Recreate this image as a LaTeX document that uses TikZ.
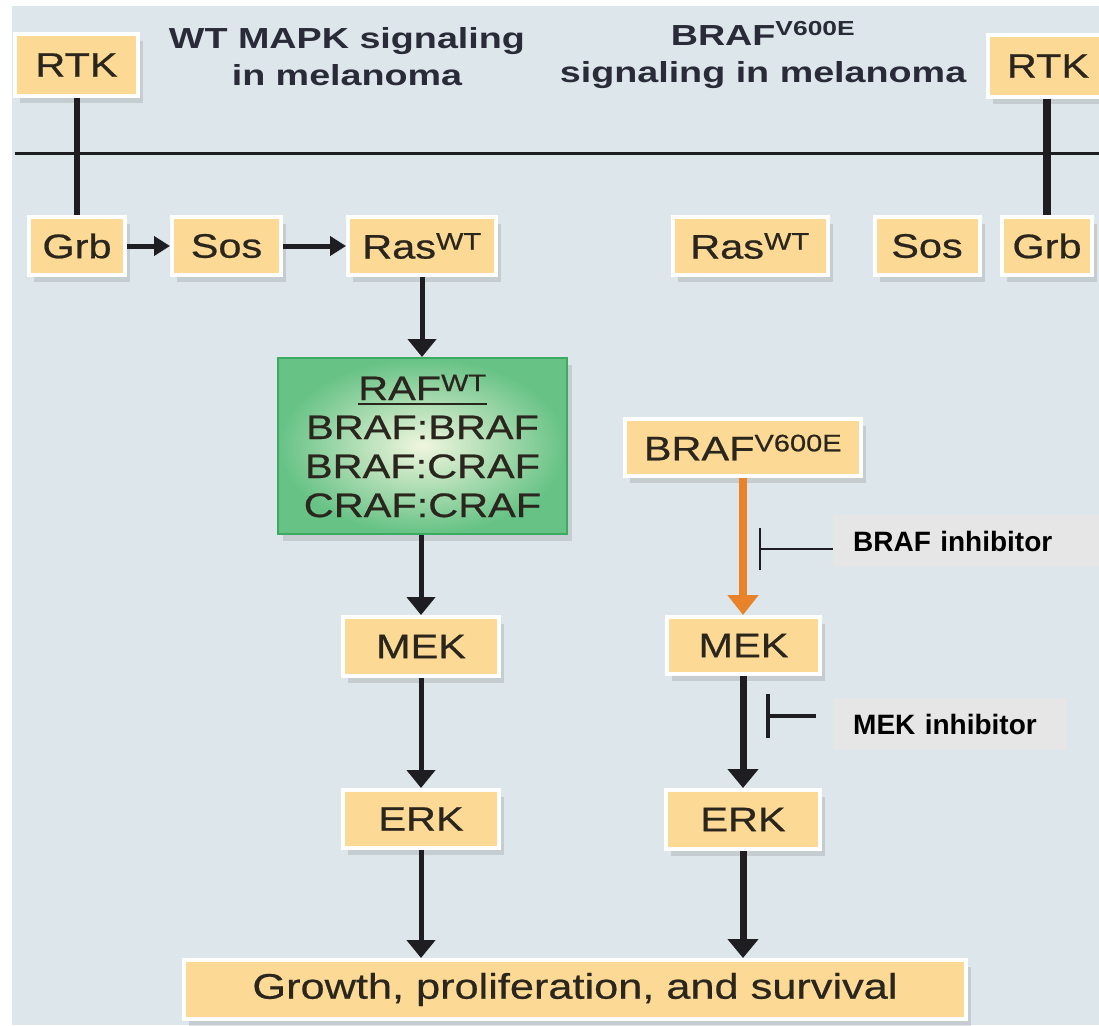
\documentclass[tikz,border=0pt]{standalone}
\usepackage{fontspec}
\usetikzlibrary{arrows.meta,shadows,calc}
\newfontfamily\boxfont[FakeStretch=1.22,FakeBold=0.6]{Liberation Sans}
\newfontfamily\titlefont[FakeStretch=1.3]{Liberation Sans Bold}
\newfontfamily\labfont{Liberation Sans Bold}
\definecolor{bg}{HTML}{DDE7EB}
\definecolor{boxfill}{HTML}{FCD995}
\definecolor{txt}{HTML}{2A261E}
\definecolor{titletxt}{HTML}{2A2B38}
\definecolor{ink}{HTML}{1E1E22}
\definecolor{orangearrow}{HTML}{E8832A}
\definecolor{labgray}{HTML}{E6E6E6}
\definecolor{rafedge}{HTML}{3DAA62}
\definecolor{rafin}{HTML}{F0F6DE}
\definecolor{rafout}{HTML}{66C285}
\newcommand\ulbar[1]{\setbox0=\hbox{#1}\leavevmode\rlap{\rule[-5pt]{\wd0}{2.5pt}}\box0}
\begin{document}
\begin{tikzpicture}[x=1pt,y=-1pt,
  protein/.style={rectangle, fill=boxfill, draw=white, line width=4pt, inner sep=0pt,
    text=txt, font=\boxfont\fontsize{34}{40}\selectfont,
    drop shadow={shadow xshift=5pt, shadow yshift=-7pt, opacity=0.14, fill=black!80}},
  rafbox/.style={rectangle, draw=rafedge, line width=2pt, inner sep=0pt,
    inner color=rafin, outer color=rafout, align=center,
    text=txt, font=\boxfont\fontsize{34}{39}\selectfont,
    drop shadow={shadow xshift=5pt, shadow yshift=-7pt, opacity=0.14, fill=black!80}},
  titlestyle/.style={align=center, text=titletxt, inner sep=0pt,
    font=\titlefont\fontsize{29}{37}\selectfont},
  inhlabel/.style={anchor=west, fill=labgray, inner xsep=20pt, inner ysep=0pt,
    minimum height=52pt, align=left, text=black,
    font=\labfont\fontsize{28}{32}\selectfont},
  arr/.style={draw=ink, line width=5pt, -{Triangle[width=28pt,length=18pt]}},
  thickarr/.style={draw=ink, line width=7pt, -{Triangle[width=30pt,length=19pt]}},
  smallarr/.style={draw=ink, line width=5pt, -{Triangle[width=19pt,length=16pt]}},
  orangearr/.style={draw=orangearrow, line width=8pt, -{Triangle[width=30pt,length=20pt]}},
  rtkline/.style={draw=ink, line width=6pt},
  inhline/.style={draw=ink, line width=2pt}
]
\useasboundingbox (0,0) rectangle (1099,1025);
\fill[white] (0,0) rectangle (1099,1025);
\fill[bg] (12,6) rectangle (1099,1025);

% membrane
\coordinate (ml) at (15,153);
\coordinate (mr) at (1099,153);
\draw[ink, line width=3pt] (ml) -- (mr);

% titles
\node[titlestyle] (titlel) at (347,57) {WT MAPK signaling\\in melanoma};
\node[titlestyle] (titler) at (763,55) {BRAF\textsuperscript{V600E}\\signaling in melanoma};

% receptor boxes
\node[protein, minimum width=123pt, minimum height=61pt] (rtkl) at (76.5,65) {RTK};
\node[protein, minimum width=120pt, minimum height=61pt] (rtkr) at (1048,66) {RTK};

% second row
\node[protein, minimum width=96pt, minimum height=58pt] (grbl) at (77,246) {Grb};
\node[protein, minimum width=109pt, minimum height=58pt] (sosl) at (226.5,246) {Sos};
\node[protein, minimum width=148pt, minimum height=58pt] (rasl) at (422,246) {Ras\textsuperscript{WT}};
\node[protein, minimum width=155pt, minimum height=58pt] (rasr) at (750,246) {Ras\textsuperscript{WT}};
\node[protein, minimum width=105pt, minimum height=58pt] (sosr) at (927,246) {Sos};
\node[protein, minimum width=90pt, minimum height=58pt] (grbr) at (1047,246) {Grb};

% RAF complex
\node[rafbox, minimum width=289pt, minimum height=176pt] (raf) at (422.5,446)
  {\ulbar{RAF\textsuperscript{WT}}\\BRAF:BRAF\\BRAF:CRAF\\CRAF:CRAF};

% left column
\node[protein, minimum width=156pt, minimum height=59pt] (mekl) at (421,646.5) {MEK};
\node[protein, minimum width=156pt, minimum height=58pt] (erkl) at (421,819) {ERK};

% right column
\node[protein, minimum width=236pt, minimum height=57pt] (brafv) at (743,447.5) {BRAF\textsuperscript{V600E}};
\node[protein, minimum width=153pt, minimum height=57pt] (mekr) at (743.5,645.5) {MEK};
\node[protein, minimum width=154pt, minimum height=59pt] (erkr) at (743,819.5) {ERK};

% outcome
\node[protein, minimum width=782pt, minimum height=59pt, font=\boxfont\fontsize{35.5}{40}\selectfont] (growth) at (575,989.5) {Growth, proliferation, and survival};

% inhibitor labels
\node[inhlabel, text width=226pt] (brafinh) at (833,541) {BRAF inhibitor};
\node[inhlabel, text width=194pt] (mekinh) at (833,724) {MEK inhibitor};

% RTK to Grb lines
\draw[rtkline] (rtkl.south) -- (rtkl.south |- grbl.north);
\draw[rtkline, line width=8.5pt] (rtkr.south -| grbr.north) -- (grbr.north);

% left pathway arrows
\draw[smallarr] (grbl.east) -- (sosl.west);
\draw[smallarr] (sosl.east) -- (rasl.west);
\draw[arr] (rasl.south) -- (rasl.south |- raf.north);
\draw[arr] (raf.south -| mekl.north) -- (mekl.north);
\draw[arr] (mekl.south) -- (erkl.north);
\draw[arr] (erkl.south) -- (erkl.south |- growth.north);

% right pathway arrows
\draw[orangearr] (brafv.south) -- (brafv.south |- mekr.north);
\draw[thickarr] (mekr.south -| erkr.north) -- (erkr.north);
\draw[thickarr] (erkr.south) -- (erkr.south |- growth.north);

% BRAF inhibitor
\coordinate (bibar) at (760,549);
\draw[inhline] (bibar) -- (bibar -| brafinh.west);
\draw[inhline] ($(bibar)+(0,-21)$) -- ($(bibar)+(0,21)$);

% MEK inhibitor
\coordinate (mibar) at (768,716);
\coordinate (miend) at (816,716);
\draw[ink, line width=3.5pt] (mibar) -- (miend);
\draw[ink, line width=4.5pt] ($(mibar)+(0,-22)$) -- ($(mibar)+(0,22)$);
\end{tikzpicture}
\end{document}
